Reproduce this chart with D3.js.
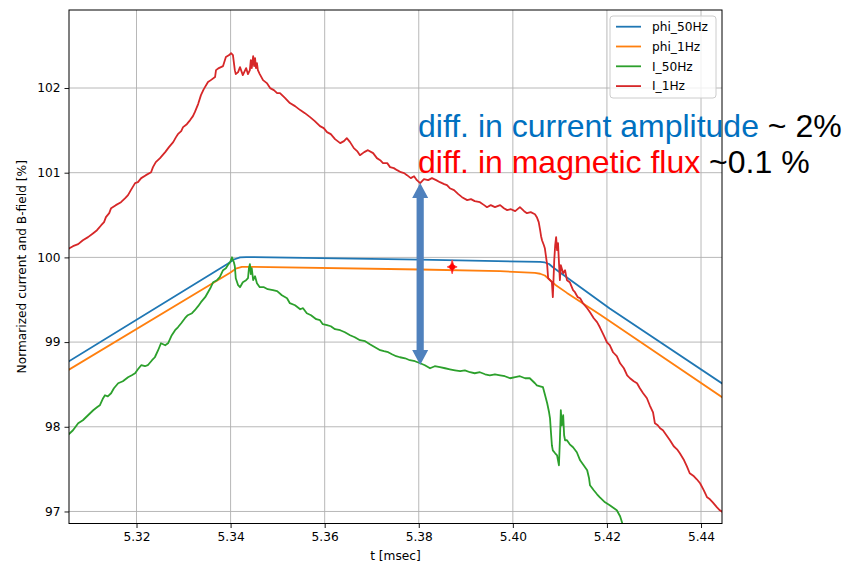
<!DOCTYPE html>
<html><head><meta charset="utf-8">
<script src="https://cdn.jsdelivr.net/npm/d3@7"></script>
<style>html,body{margin:0;padding:0;background:#fff;}svg{display:block;}</style>
</head><body>
<svg id="chart" width="844" height="564"></svg>
<script>
// ---------- data ----------
const xTicks = [5.32, 5.34, 5.36, 5.38, 5.40, 5.42, 5.44];
const yTicks = [97, 98, 99, 100, 101, 102];
const seriesNames = ["phi_50Hz", "phi_1Hz", "I_50Hz", "I_1Hz"];
const seriesColors = ["#1f77b4", "#ff7f0e", "#2ca02c", "#d62728"];

const phi50T = [5.3054,5.3394,5.3407,5.3420,5.3433,5.3803,5.4058,5.4068,5.4077,5.4085,5.4115,5.4206,5.4444,5.4451];
const phi50V = [98.766,99.926,99.975,99.999,100.004,99.973,99.947,99.940,99.922,99.884,99.763,99.396,98.514,98.490];

const phi1T = [5.3054,5.3399,5.3411,5.3424,5.3441,5.3803,5.3973,5.4047,5.4058,5.4068,5.4079,5.4090,5.4115,5.4185,5.4444,5.4451];
const phi1V = [98.667,99.819,99.867,99.887,99.889,99.857,99.837,99.816,99.807,99.786,99.733,99.678,99.581,99.325,98.352,98.329];

const i50T = [5.3054,5.3065,5.3076,5.3086,5.3097,5.3108,5.3116,5.3122,5.3129,5.3133,5.3139,5.3146,5.3152,5.3161,5.3171,5.3182,5.3190,5.3197,5.3203,5.3210,
5.3218,5.3224,5.3233,5.3239,5.3246,5.3252,5.3261,5.3267,5.3275,5.3282,5.3288,5.3295,5.3303,5.3309,5.3318,5.3324,5.3331,5.3337,5.3346,5.3352,
5.3358,5.3363,5.3371,5.3377,5.3382,5.3384,5.3390,5.3394,5.3399,5.3403,5.3407,5.3409,5.3411,5.3416,5.3420,5.3426,5.3433,5.3437,5.3439,5.3441,
5.3443,5.3445,5.3448,5.3452,5.3456,5.3462,5.3471,5.3479,5.3490,5.3499,5.3509,5.3520,5.3526,5.3537,5.3548,5.3554,5.3562,5.3571,5.3582,5.3590,
5.3596,5.3605,5.3613,5.3622,5.3633,5.3643,5.3654,5.3664,5.3675,5.3686,5.3696,5.3707,5.3718,5.3726,5.3735,5.3743,5.3752,5.3760,5.3771,5.3781,
5.3792,5.3803,5.3813,5.3824,5.3834,5.3845,5.3856,5.3866,5.3877,5.3888,5.3898,5.3909,5.3919,5.3930,5.3941,5.3951,5.3962,5.3973,5.3983,5.3994,
5.4005,5.4015,5.4026,5.4036,5.4047,5.4051,5.4058,5.4064,5.4068,5.4073,5.4077,5.4079,5.4081,5.4083,5.4085,5.4090,5.4094,5.4096,5.4098,5.4100,
5.4102,5.4104,5.4107,5.4109,5.4111,5.4115,5.4121,5.4128,5.4136,5.4143,5.4149,5.4158,5.4162,5.4164,5.4172,5.4179,5.4185,5.4196,5.4206,5.4215,
5.4221,5.4228,5.4232,5.4238];
const i50V = [97.900,97.959,98.041,98.077,98.136,98.195,98.230,98.254,98.337,98.372,98.360,98.396,98.455,98.514,98.538,98.585,98.608,98.632,98.679,98.727,
98.715,98.727,98.786,98.821,98.904,98.986,98.963,98.986,99.081,99.140,99.175,99.223,99.282,99.317,99.341,99.376,99.424,99.471,99.530,99.589,
99.648,99.707,99.731,99.766,99.825,99.849,99.872,99.908,99.943,100.002,99.943,99.896,99.754,99.672,99.648,99.707,99.731,99.754,99.872,99.920,
99.802,99.872,99.731,99.778,99.695,99.648,99.648,99.624,99.613,99.601,99.553,99.518,99.459,99.435,99.388,99.400,99.341,99.317,99.270,99.258,
99.211,99.199,99.187,99.152,99.140,99.116,99.081,99.057,99.022,99.010,98.975,98.939,98.904,98.892,98.880,98.856,98.833,98.821,98.809,98.786,
98.774,98.750,98.727,98.691,98.715,98.703,98.691,98.679,98.667,98.656,98.667,98.644,98.632,98.644,98.620,98.608,98.620,98.608,98.597,98.573,
98.585,98.597,98.573,98.573,98.514,98.490,98.478,98.467,98.384,98.278,98.171,98.100,97.935,97.782,97.722,97.687,97.663,97.604,97.545,97.841,
98.195,98.018,98.136,97.900,97.841,97.841,97.793,97.758,97.699,97.604,97.557,97.486,97.392,97.309,97.250,97.203,97.167,97.108,97.073,97.037,
97.014,96.943,96.872,96.754];

const i1T = [5.3054,5.3065,5.3076,5.3086,5.3097,5.3108,5.3116,5.3125,5.3131,5.3135,5.3142,5.3146,5.3156,5.3167,5.3176,5.3182,5.3188,5.3197,5.3203,5.3210,
5.3220,5.3231,5.3235,5.3241,5.3250,5.3261,5.3269,5.3278,5.3284,5.3288,5.3295,5.3299,5.3307,5.3314,5.3320,5.3324,5.3331,5.3337,5.3343,5.3352,
5.3358,5.3367,5.3369,5.3375,5.3384,5.3390,5.3397,5.3401,5.3405,5.3409,5.3411,5.3416,5.3420,5.3426,5.3433,5.3437,5.3441,5.3443,5.3445,5.3448,
5.3450,5.3452,5.3454,5.3456,5.3458,5.3462,5.3469,5.3477,5.3484,5.3492,5.3499,5.3505,5.3516,5.3526,5.3537,5.3548,5.3558,5.3569,5.3579,5.3590,
5.3598,5.3605,5.3613,5.3622,5.3633,5.3641,5.3647,5.3654,5.3662,5.3669,5.3675,5.3684,5.3692,5.3703,5.3711,5.3718,5.3724,5.3733,5.3739,5.3747,
5.3754,5.3762,5.3769,5.3775,5.3783,5.3790,5.3796,5.3803,5.3811,5.3820,5.3828,5.3837,5.3845,5.3854,5.3860,5.3866,5.3875,5.3884,5.3892,5.3903,
5.3911,5.3919,5.3930,5.3939,5.3945,5.3953,5.3962,5.3973,5.3981,5.3988,5.3996,5.4005,5.4015,5.4024,5.4030,5.4038,5.4047,5.4051,5.4055,5.4058,
5.4060,5.4062,5.4066,5.4068,5.4073,5.4075,5.4079,5.4083,5.4085,5.4088,5.4090,5.4092,5.4094,5.4096,5.4098,5.4100,5.4102,5.4107,5.4111,5.4115,
5.4121,5.4128,5.4132,5.4138,5.4143,5.4149,5.4158,5.4164,5.4172,5.4179,5.4185,5.4194,5.4200,5.4206,5.4213,5.4221,5.4228,5.4236,5.4243,5.4249,
5.4257,5.4264,5.4270,5.4277,5.4285,5.4291,5.4298,5.4302,5.4308,5.4313,5.4319,5.4328,5.4334,5.4342,5.4349,5.4355,5.4364,5.4370,5.4376,5.4385,
5.4391,5.4398,5.4406,5.4413,5.4419,5.4425,5.4434,5.4440,5.4447];
const i1V = [100.097,100.132,100.156,100.203,100.239,100.286,100.321,100.380,100.416,100.475,100.522,100.581,100.617,100.652,100.699,100.735,100.794,100.877,100.888,100.936,
100.971,101.006,101.066,101.125,101.172,101.243,101.302,101.361,101.420,101.455,101.491,101.538,101.573,101.621,101.668,101.715,101.810,101.916,101.987,102.070,
102.093,102.129,102.211,102.235,102.259,102.365,102.389,102.412,102.389,102.211,102.164,102.188,102.247,102.152,102.235,102.164,102.211,102.330,102.235,102.377,
102.259,102.353,102.235,102.294,102.211,102.164,102.093,102.058,101.999,101.975,101.940,101.940,101.881,101.822,101.786,101.739,101.703,101.656,101.609,101.550,
101.526,101.479,101.455,101.396,101.349,101.373,101.408,101.361,101.290,101.255,101.207,101.243,101.266,101.231,101.172,101.148,101.113,101.113,101.066,101.054,
101.030,101.006,100.995,100.971,100.936,100.959,100.912,100.877,100.924,100.912,100.936,100.912,100.888,100.865,100.853,100.817,100.794,100.747,100.711,100.676,
100.688,100.664,100.652,100.617,100.593,100.617,100.593,100.617,100.581,100.558,100.569,100.546,100.593,100.546,100.522,100.534,100.510,100.475,100.416,100.321,
100.250,100.203,100.144,100.109,99.908,99.754,99.731,99.707,99.530,99.967,100.144,100.239,100.085,100.168,99.943,99.731,99.908,99.813,99.849,99.731,
99.707,99.613,99.589,99.530,99.518,99.459,99.400,99.353,99.282,99.235,99.175,99.069,98.998,98.963,98.880,98.833,98.750,98.691,98.608,98.573,
98.538,98.514,98.455,98.396,98.337,98.254,98.171,98.041,98.018,97.982,97.959,97.888,97.841,97.770,97.734,97.687,97.604,97.533,97.451,97.415,
97.380,97.333,97.250,97.167,97.144,97.108,97.049,97.014,96.990];

// annotations (data coordinates)
const arrowT = 5.3803, arrowTop = 100.878, arrowBottom = 98.730;
const starT = 5.3871, starV = 99.888;
const note1 = ["diff. in current amplitude", " ~ 2%"];
const note2 = ["diff. in magnetic flux", " ~0.1 %"];

// ---------- layout ----------
const L = 69, R = 722, T = 10, B = 523.5;
const x = d3.scaleLinear().domain([5.30565, 5.44446]).range([L, R]);
const y = d3.scaleLinear().domain([96.858, 102.921]).range([B, T]);

const svg = d3.select("#chart");
const axFont = "'DejaVu Sans', sans-serif";

svg.append("defs").append("clipPath").attr("id", "clip")
  .append("rect").attr("x", L).attr("y", T).attr("width", R - L).attr("height", B - T);

// grid
const grid = svg.append("g");
grid.selectAll(".gx").data(xTicks).enter().append("line")
  .attr("x1", d => x(d)).attr("x2", d => x(d)).attr("y1", T).attr("y2", B)
  .attr("stroke", "#b0b0b0").attr("stroke-width", 0.9);
grid.selectAll(".gy").data(yTicks).enter().append("line")
  .attr("y1", d => y(d)).attr("y2", d => y(d)).attr("x1", L).attr("x2", R)
  .attr("stroke", "#b0b0b0").attr("stroke-width", 0.9);

// series
const series = [
  {t: phi50T, v: phi50V},
  {t: phi1T, v: phi1V},
  {t: i50T, v: i50V},
  {t: i1T, v: i1V}
];
const line = d3.line().x(d => x(d[0])).y(d => y(d[1]));
const plot = svg.append("g").attr("clip-path", "url(#clip)");
series.forEach((s, i) => {
  const pts = s.t.map((t, k) => [t, s.v[k]]);
  plot.append("path").datum(pts).attr("d", line)
    .attr("fill", "none").attr("stroke", seriesColors[i])
    .attr("stroke-width", 1.8).attr("stroke-linejoin", "round");
});

// axes
const xAxis = svg.append("g").attr("transform", `translate(0,${B})`)
  .call(d3.axisBottom(x).tickValues(xTicks).tickFormat(d3.format(".2f")).tickSize(4.5).tickPadding(4));
const yAxis = svg.append("g").attr("transform", `translate(${L},0)`)
  .call(d3.axisLeft(y).tickValues(yTicks).tickFormat(d3.format("d")).tickSize(4.5).tickPadding(4));
[xAxis, yAxis].forEach(a => {
  a.select(".domain").remove();
  a.selectAll("text").attr("font-family", axFont).attr("font-size", 12.2).attr("fill", "#000");
  a.selectAll("line").attr("stroke", "#000").attr("stroke-width", 0.9);
});
// spines
svg.append("rect").attr("x", L).attr("y", T).attr("width", R - L).attr("height", B - T)
  .attr("fill", "none").attr("stroke", "#000").attr("stroke-width", 1);

// axis labels
svg.append("text").attr("x", (L + R) / 2).attr("y", 560).attr("text-anchor", "middle")
  .attr("font-family", axFont).attr("font-size", 12.2).text("t [msec]");
svg.append("text").attr("transform", `translate(26,${(T + B) / 2}) rotate(-90)`)
  .attr("text-anchor", "middle").attr("font-family", axFont).attr("font-size", 12.2)
  .text("Normarized current and B-field [%]");

// legend
const lg = svg.append("g");
lg.append("rect").attr("x", 610).attr("y", 16).attr("width", 106).attr("height", 82).attr("rx", 3)
  .attr("fill", "#fff").attr("fill-opacity", 0.8).attr("stroke", "#cccccc").attr("stroke-width", 1);
seriesNames.forEach((n, i) => {
  const yy = 26.7 + i * 19.8;
  lg.append("line").attr("x1", 616).attr("x2", 641).attr("y1", yy).attr("y2", yy)
    .attr("stroke", seriesColors[i]).attr("stroke-width", 1.8);
  lg.append("text").attr("x", 652).attr("y", yy + 4.3).attr("font-family", axFont)
    .attr("font-size", 12.2).text(n);
});

// double arrow
const ax = x(arrowT), ay1 = y(arrowTop), ay2 = y(arrowBottom);
const sw = 3.6, hw = 8, hl = 15;
const arrowPath = [
  [ax, ay1], [ax + hw, ay1 + hl], [ax + sw, ay1 + hl], [ax + sw, ay2 - hl], [ax + hw, ay2 - hl],
  [ax, ay2], [ax - hw, ay2 - hl], [ax - sw, ay2 - hl], [ax - sw, ay1 + hl], [ax - hw, ay1 + hl]
];
svg.append("path").attr("d", d3.line()(arrowPath) + "Z").attr("fill", "#4F81BD");

// red star marker
const sx = x(starT), sy = y(starV);
const starPts = [[0,-7],[1.6,-1.6],[5,0],[1.6,1.6],[0,7],[-1.6,1.6],[-5,0],[-1.6,-1.6]]
  .map(p => [sx + p[0], sy + p[1]]);
svg.append("path").attr("d", d3.line()(starPts) + "Z").attr("fill", "#ff0000")
  .attr("stroke", "#ff4040").attr("stroke-width", 0.8);
svg.append("circle").attr("cx", sx).attr("cy", sy).attr("r", 2.6).attr("fill", "#ff0000");

// annotation text
const noteFont = "'Liberation Sans', Arial, sans-serif";
const t1 = svg.append("text").attr("x", 418).attr("y", 137).attr("font-family", noteFont).attr("font-size", 32);
t1.append("tspan").attr("fill", "#0070C0").text(note1[0]);
t1.append("tspan").attr("fill", "#000").style("white-space", "pre").text(note1[1]);
const t2 = svg.append("text").attr("x", 418).attr("y", 173).attr("font-family", noteFont).attr("font-size", 32);
t2.append("tspan").attr("fill", "#ff0000").text(note2[0]);
t2.append("tspan").attr("fill", "#000").style("white-space", "pre").text(note2[1]);
</script>
</body></html>
